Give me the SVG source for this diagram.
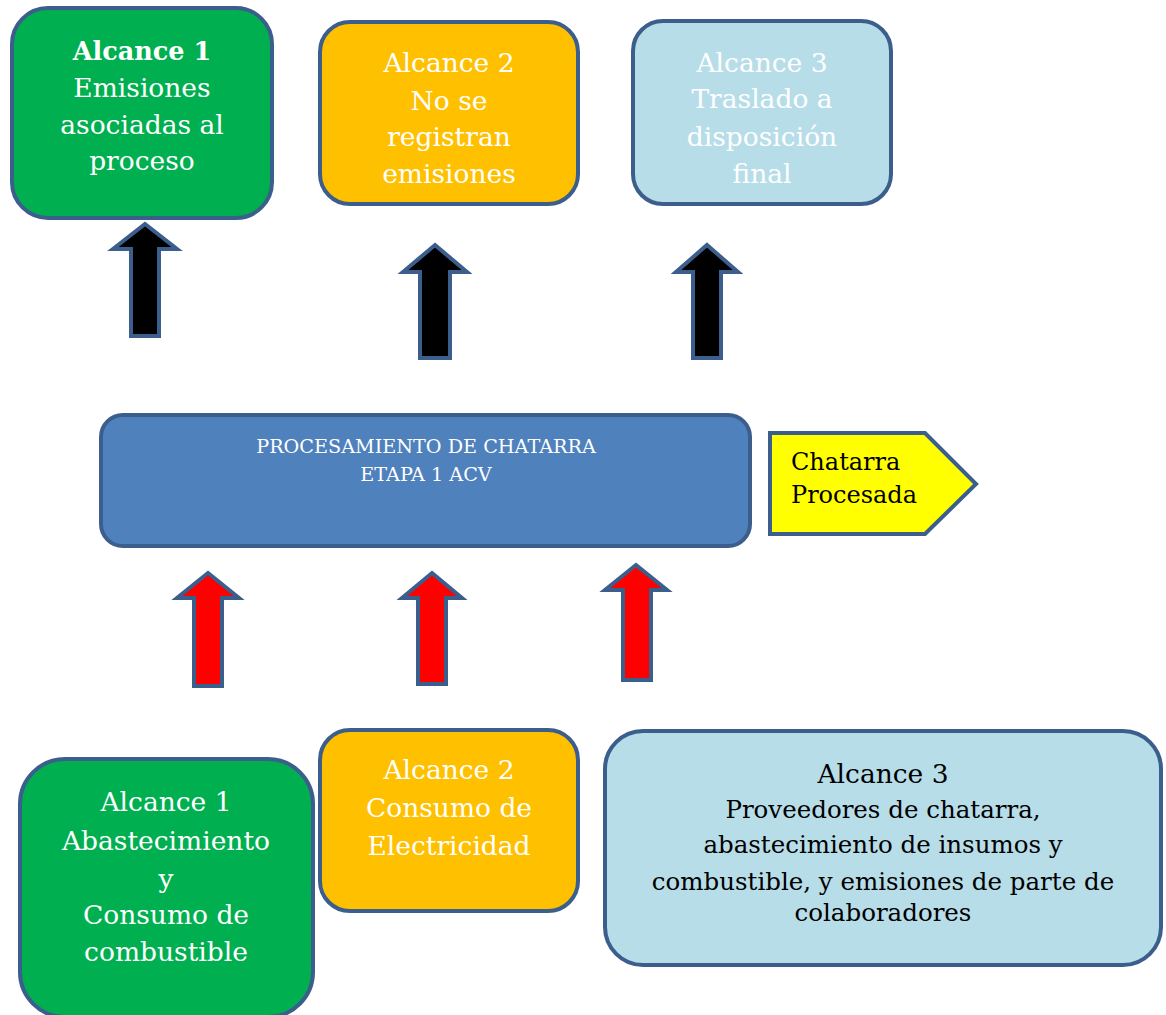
<svg xmlns="http://www.w3.org/2000/svg" width="1166" height="1015" viewBox="0 0 1166 1015">
<style>
.box{stroke:#3B5E8C;stroke-width:4}
.arr{stroke:#3B5E8C;stroke-width:4;stroke-linejoin:miter}
text{font-family:"DejaVu Serif","Liberation Serif",serif;text-anchor:middle}
.w{fill:#ffffff}
.k{fill:#000000}
.big{font-size:26.5px}
.mid{font-size:24.5px}
</style>
<rect width="1166" height="1015" fill="#ffffff"/>
<g id="connectors">
<path class="arr" fill="#000000" d="M145,224 L177,249 L159,249 L159,336 L131,336 L131,249 L113,249 Z"/>
<path class="arr" fill="#000000" d="M435,245 L467,272 L450,272 L450,358 L420,358 L420,272 L403,272 Z"/>
<path class="arr" fill="#000000" d="M707,245 L738,272 L721,272 L721,358 L693,358 L693,272 L676,272 Z"/>
<path class="arr" fill="#FF0000" d="M208,573 L239,598 L222,598 L222,686 L194,686 L194,598 L177,598 Z"/>
<path class="arr" fill="#FF0000" d="M432,573 L462,598 L446,598 L446,684 L418,684 L418,598 L402,598 Z"/>
<path class="arr" fill="#FF0000" d="M636,565 L667,590 L651,590 L651,680 L623,680 L623,590 L605,590 Z"/>
</g>
<g id="top-alcance1">
<rect class="box" x="12" y="8" width="260" height="210" rx="36" fill="#00B050"/>
<text class="w" x="142" y="60" font-size="25.5px" font-weight="bold">Alcance 1</text>
<text class="w big" x="142" y="97">Emisiones</text>
<text class="w big" x="142" y="134">asociadas al</text>
<text class="w big" x="142" y="170">proceso</text>
</g>
<g id="top-alcance2">
<rect class="box" x="320" y="22" width="258" height="182" rx="30" fill="#FFC000"/>
<text class="w big" x="449" y="72">Alcance 2</text>
<text class="w big" x="449" y="110">No se</text>
<text class="w big" x="449" y="146">registran</text>
<text class="w big" x="449" y="183">emisiones</text>
</g>
<g id="top-alcance3">
<rect class="box" x="633" y="21" width="258" height="183" rx="30" fill="#B7DDE8"/>
<text class="w big" x="762" y="72">Alcance 3</text>
<text class="w big" x="762" y="108">Traslado a</text>
<text class="w big" x="762" y="146">disposición</text>
<text class="w big" x="762" y="183">final</text>
</g>
<g id="proceso">
<rect class="box" x="101" y="415" width="649" height="131" rx="22" fill="#4F81BD"/>
<text class="w" x="426" y="453" font-size="19.2px">PROCESAMIENTO DE CHATARRA</text>
<text class="w" x="426" y="481" font-size="19.2px">ETAPA 1 ACV</text>
</g>
<g id="chatarra-procesada">
<path class="box" fill="#FFFF00" d="M770,433 L925,433 L976,484 L925,534 L770,534 Z"/>
<text class="k" x="791" y="470" font-size="24px" style="text-anchor:start">Chatarra</text>
<text class="k" x="791" y="503" font-size="24px" style="text-anchor:start">Procesada</text>
</g>
<g id="bottom-alcance1">
<rect class="box" x="20" y="759" width="293" height="258" rx="45" fill="#00B050"/>
<text class="w big" x="166" y="811">Alcance 1</text>
<text class="w big" x="166" y="850">Abastecimiento</text>
<text class="w big" x="166" y="888">y</text>
<text class="w big" x="166" y="924">Consumo de</text>
<text class="w big" x="166" y="961">combustible</text>
</g>
<g id="bottom-alcance2">
<rect class="box" x="320" y="730" width="258" height="181" rx="30" fill="#FFC000"/>
<text class="w big" x="449" y="779">Alcance 2</text>
<text class="w big" x="449" y="817">Consumo de</text>
<text class="w big" x="449" y="855">Electricidad</text>
</g>
<g id="bottom-alcance3">
<rect class="box" x="605" y="731" width="556" height="234" rx="38" fill="#B7DDE8"/>
<text class="k big" x="883" y="783">Alcance 3</text>
<text class="k mid" x="883" y="818">Proveedores de chatarra,</text>
<text class="k mid" x="883" y="853">abastecimiento de insumos y</text>
<text class="k mid" x="883" y="890">combustible, y emisiones de parte de</text>
<text class="k mid" x="883" y="921">colaboradores</text>
</g>
</svg>
